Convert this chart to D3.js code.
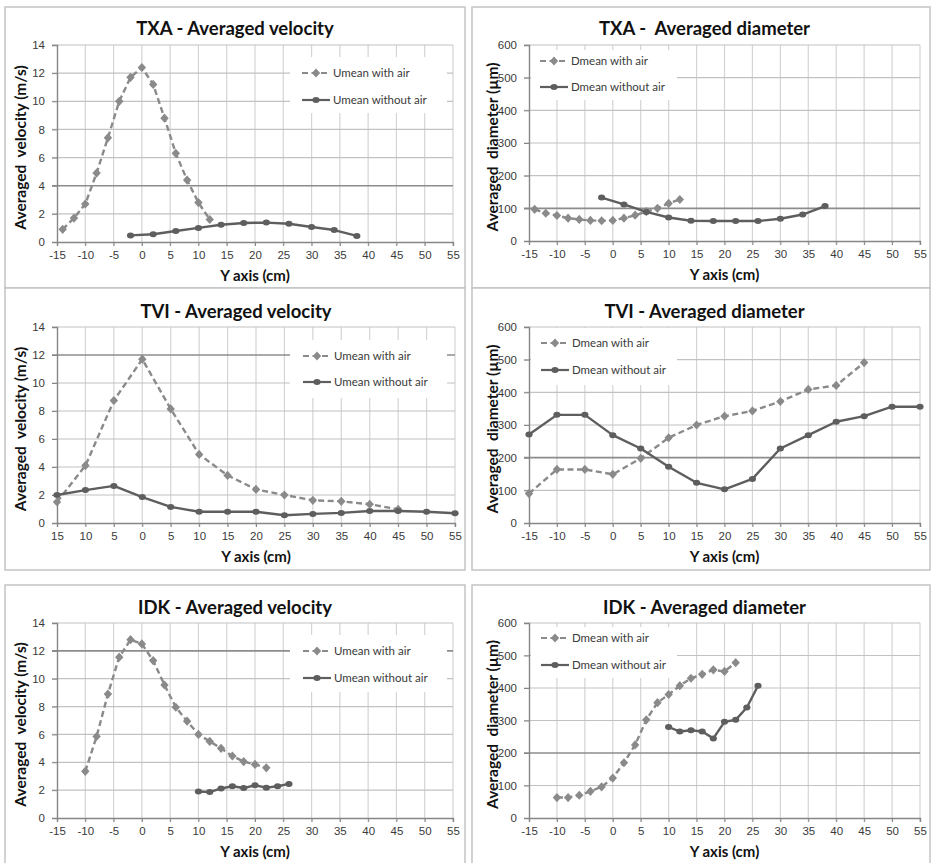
<!DOCTYPE html>
<html>
<head>
<meta charset="utf-8">
<script src="https://cdn.jsdelivr.net/npm/d3@7"></script>
<style>
  body { margin: 0; background: #fff; }
  svg { display: block; font-family: Lato, "Open Sans", sans-serif; }
</style>
</head>
<body>
<svg id="chart" width="931" height="863"></svg>
<script>

// Data /////////////////////////////////////////

// TXA - velocity (m/s)
const txaVelAirX   = [-14, -12, -10, -8, -6, -4, -2, 0, 2, 4, 6, 8, 10, 12];
const txaVelAirY   = [0.9, 1.7, 2.7, 4.9, 7.4, 10.0, 11.7, 12.4, 11.2, 8.8, 6.3, 4.4, 2.8, 1.6];
const txaVelNoAirX = [-2, 2, 6, 10, 14, 18, 22, 26, 30, 34, 38];
const txaVelNoAirY = [0.47, 0.55, 0.78, 1.0, 1.23, 1.35, 1.38, 1.3, 1.07, 0.85, 0.43];

// TXA - diameter (µm)
const txaDiaAirX   = [-14, -12, -10, -8, -6, -4, -2, 0, 2, 4, 6, 8, 10, 12];
const txaDiaAirY   = [97, 85, 78, 70, 66, 63, 62, 63, 70, 79, 90, 100, 115, 127];
const txaDiaNoAirX = [-2, 2, 6, 10, 14, 18, 22, 26, 30, 34, 38];
const txaDiaNoAirY = [133, 112, 89, 72, 62, 61, 61, 61, 68, 81, 107];

// TVI - velocity (m/s)
const tviAirX      = [-15, -10, -5, 0, 5, 10, 15, 20, 25, 30, 35, 40, 45];
const tviNoAirX    = [-15, -10, -5, 0, 5, 10, 15, 20, 25, 30, 35, 40, 45, 50, 55];
const tviVelAirY   = [1.5, 4.1, 8.75, 11.7, 8.15, 4.9, 3.4, 2.4, 2.0, 1.62, 1.55, 1.34, 0.98];
const tviVelNoAirY = [2.0, 2.35, 2.65, 1.85, 1.15, 0.8, 0.8, 0.8, 0.55, 0.65, 0.72, 0.86, 0.86, 0.8, 0.7];

// TVI - diameter (µm)
const tviDiaAirY   = [90, 164, 164, 149, 198, 261, 300, 327, 343, 372, 409, 421, 491];
const tviDiaNoAirY = [271, 331, 331, 269, 228, 172, 123, 103, 135, 228, 269, 310, 327, 356, 356];

// IDK - velocity (m/s)
const idkAirX      = [-10, -8, -6, -4, -2, 0, 2, 4, 6, 8, 10, 12, 14, 16, 18, 20, 22];
const idkNoAirX    = [10, 12, 14, 16, 18, 20, 22, 24, 26];
const idkVelAirY   = [3.35, 5.85, 8.9, 11.55, 12.8, 12.5, 11.3, 9.55, 7.95, 6.95, 6.0, 5.5, 5.0, 4.45, 4.05, 3.85, 3.6];
const idkVelNoAirY = [1.9, 1.86, 2.12, 2.28, 2.15, 2.35, 2.18, 2.28, 2.45];

// IDK - diameter (µm)
const idkDiaAirY   = [63, 63, 70, 82, 96, 123, 170, 225, 302, 355, 380, 407, 430, 442, 456, 451, 478];
const idkDiaNoAirY = [280, 266, 270, 266, 245, 296, 302, 340, 407];

// Axes
const xTicks       = [-15, -10, -5, 0, 5, 10, 15, 20, 25, 30, 35, 40, 45, 50, 55];
const xTickLabels  = ["-15", "-10", "-5", "0", "5", "10", "15", "20", "25", "30", "35", "40", "45", "50", "55"];
const xTickLabelsTvi = ["15", "10", "5", "0", "5", "10", "15", "20", "25", "30", "35", "40", "45", "50", "55"];
const velTicks     = [0, 2, 4, 6, 8, 10, 12, 14];
const diaTicks     = [0, 100, 200, 300, 400, 500, 600];

const velLegend = ["Umean with air", "Umean without air"];
const diaLegend = ["Dmean with air", "Dmean without air"];

const zip = (xs, ys) => xs.map((x, i) => ({ x: x, y: ys[i] }));

// Panels ///////////////////////////////////////

const panels = [
    { title: "TXA - Averaged velocity", ylabel: "Averaged  velocity (m/s)", yMax: 14, yTicks: velTicks,
      xLabels: xTickLabels, legend: velLegend, dark: [4],
      air: zip(txaVelAirX, txaVelAirY), noAir: zip(txaVelNoAirX, txaVelNoAirY),
      frame: [5, 7, 460, 281], plot: [57, 453, 45, 242], titleY: 35,
      leg: { x: 290, y: 57, w: 157, h: 56, rows: [73, 100], sx: 302 } },
    { title: "TXA -  Averaged diameter", ylabel: "Averaged  diameter (µm)", yMax: 600, yTicks: diaTicks,
      xLabels: xTickLabels, legend: diaLegend, dark: [100],
      air: zip(txaDiaAirX, txaDiaAirY), noAir: zip(txaDiaNoAirX, txaDiaNoAirY),
      frame: [472, 7, 458, 281], plot: [529, 920, 45, 241], titleY: 35,
      leg: { x: 531, y: 50, w: 146, h: 50, rows: [61, 87], sx: 540 } },
    { title: "TVI - Averaged velocity", ylabel: "Averaged  velocity (m/s)", yMax: 14, yTicks: velTicks,
      xLabels: xTickLabelsTvi, legend: velLegend, dark: [12],
      air: zip(tviAirX, tviVelAirY), noAir: zip(tviNoAirX, tviVelNoAirY),
      frame: [5, 288, 460, 282], plot: [57, 455, 327, 523], titleY: 318,
      leg: { x: 290, y: 340, w: 157, h: 58, rows: [356, 382], sx: 303 } },
    { title: "TVI - Averaged diameter", ylabel: "Averaged  diameter (µm)", yMax: 600, yTicks: diaTicks,
      xLabels: xTickLabels, legend: diaLegend, dark: [200],
      air: zip(tviAirX, tviDiaAirY), noAir: zip(tviNoAirX, tviDiaNoAirY),
      frame: [472, 288, 458, 282], plot: [529, 920, 327, 523], titleY: 318,
      leg: { x: 531, y: 328, w: 146, h: 57, rows: [343, 370], sx: 541 } },
    { title: "IDK - Averaged velocity", ylabel: "Averaged  velocity (m/s)", yMax: 14, yTicks: velTicks,
      xLabels: xTickLabels, legend: velLegend, dark: [12],
      air: zip(idkAirX, idkVelAirY), noAir: zip(idkNoAirX, idkVelNoAirY),
      frame: [5, 585, 460, 290], plot: [57, 453, 623, 818], titleY: 614,
      leg: { x: 290, y: 635, w: 157, h: 57, rows: [651, 678], sx: 303 } },
    { title: "IDK - Averaged diameter", ylabel: "Averaged  diameter (µm)", yMax: 600, yTicks: diaTicks,
      xLabels: xTickLabels, legend: diaLegend, dark: [200],
      air: zip(idkAirX, idkDiaAirY), noAir: zip(idkNoAirX, idkDiaNoAirY),
      frame: [472, 585, 458, 290], plot: [529, 920, 623, 818], titleY: 614,
      leg: { x: 531, y: 627, w: 146, h: 51, rows: [638, 665], sx: 541 } }
];

const colAir = "#8a8a8a";
const colNoAir = "#5e5e5e";

const svg = d3.select("#chart");

panels.forEach(drawPanel);

function drawPanel(p) {

    const [fx, fy, fw, fh] = p.frame;
    const [l, r, t, b] = p.plot;
    const g = svg.append("g");

    // Frame ////////////////////////////////////

    g.append("rect")
        .attr("x", fx).attr("y", fy)
        .attr("width", fw).attr("height", fh)
        .attr("fill", "#fff")
        .attr("stroke", "#c4c4c4")
        .attr("stroke-width", 1.5);

    const x = d3.scaleLinear().domain([-15, 55]).range([l, r]);
    const y = d3.scaleLinear().domain([0, p.yMax]).range([b, t]);

    // Grid /////////////////////////////////////

    g.append("g")
        .selectAll("line")
        .data(xTicks.slice(1))
        .join("line")
        .attr("x1", d => x(d)).attr("x2", d => x(d))
        .attr("y1", t).attr("y2", b + 4)
        .attr("stroke", "#d4d4d4")
        .attr("stroke-width", 1.2);

    g.append("g")
        .selectAll("line")
        .data(p.yTicks.slice(1))
        .join("line")
        .attr("x1", l - 5).attr("x2", r)
        .attr("y1", d => y(d)).attr("y2", d => y(d))
        .attr("stroke", d => p.dark.includes(d) ? "#8c8c8c" : "#c2c2c2")
        .attr("stroke-width", d => p.dark.includes(d) ? 1.6 : 1.2);

    // Axes /////////////////////////////////////

    const xAxis = d3.axisBottom(x)
        .tickValues(xTicks)
        .tickFormat((d, i) => p.xLabels[i])
        .tickSize(4)
        .tickPadding(5);

    const xg = g.append("g")
        .attr("transform", `translate(0,${b})`)
        .call(xAxis);
    xg.select(".domain").attr("stroke", "#868686").attr("stroke-width", 1.4);
    xg.selectAll(".tick line").attr("stroke", "#868686");
    xg.selectAll(".tick text")
        .attr("fill", "#3a3a3a")
        .style("font-size", "11.5px");

    const yAxis = d3.axisLeft(y)
        .tickValues(p.yTicks)
        .tickSize(5)
        .tickPadding(7);

    const yg = g.append("g")
        .attr("transform", `translate(${l},0)`)
        .call(yAxis);
    yg.select(".domain").attr("stroke", "#868686").attr("stroke-width", 1.4);
    yg.selectAll(".tick line").attr("stroke", "#868686");
    yg.selectAll(".tick text")
        .attr("fill", "#3a3a3a")
        .style("font-size", "11.5px");

    // Titles ///////////////////////////////////

    g.append("text")
        .attr("x", (l + r) / 2 - 20)
        .attr("y", p.titleY)
        .attr("text-anchor", "middle")
        .style("font-size", "18.5px")
        .style("font-weight", "bold")
        .style("white-space", "pre")
        .attr("fill", "#111")
        .text(p.title);

    g.append("text")
        .attr("x", (l + r) / 2)
        .attr("y", b + 39)
        .attr("text-anchor", "middle")
        .style("font-size", "15px")
        .style("font-weight", "bold")
        .attr("fill", "#111")
        .text("Y axis (cm)");

    g.append("text")
        .attr("transform", `translate(${l - 31},${(t + b) / 2 + 4}) rotate(-90)`)
        .attr("text-anchor", "middle")
        .style("font-size", "15.5px")
        .style("font-weight", "bold")
        .style("white-space", "pre")
        .attr("fill", "#111")
        .text(p.ylabel);

    // Legend ///////////////////////////////////

    const lg = g.append("g");
    lg.append("rect")
        .attr("x", p.leg.x).attr("y", p.leg.y)
        .attr("width", p.leg.w).attr("height", p.leg.h)
        .attr("fill", "#fff");

    const styles = [
        { col: colAir, dash: "6,3.5", marker: "diamond" },
        { col: colNoAir, dash: null, marker: "circle" }
    ];

    styles.forEach((s, i) => {
        const ly = p.leg.rows[i];
        lg.append("line")
            .attr("x1", p.leg.sx).attr("x2", p.leg.sx + 28)
            .attr("y1", ly).attr("y2", ly)
            .attr("stroke", s.col)
            .attr("stroke-width", 2.2)
            .attr("stroke-dasharray", s.dash);
        addMarker(lg, s, p.leg.sx + 14, ly);
        lg.append("text")
            .attr("x", p.leg.sx + 31)
            .attr("y", ly + 4)
            .style("font-size", "11.5px")
            .attr("fill", "#3a3a3a")
            .text(p.legend[i]);
    });

    // Series ///////////////////////////////////

    const line = d3.line().x(d => x(d.x)).y(d => y(d.y));

    [[p.air, styles[0]], [p.noAir, styles[1]]].forEach(([data, s]) => {
        g.append("path")
            .datum(data)
            .attr("d", line)
            .attr("fill", "none")
            .attr("stroke", s.col)
            .attr("stroke-width", 2.4)
            .attr("stroke-dasharray", s.dash)
            .attr("stroke-linejoin", "round");
        data.forEach(d => addMarker(g, s, x(d.x), y(d.y)));
    });
}

function addMarker(sel, s, cx, cy) {
    if (s.marker === "diamond") {
        sel.append("path")
            .attr("d", "M0,-4.6L4.2,0L0,4.6L-4.2,0Z")
            .attr("transform", `translate(${cx},${cy})`)
            .attr("fill", s.col);
    } else {
        sel.append("ellipse")
            .attr("cx", cx).attr("cy", cy)
            .attr("rx", 3.6).attr("ry", 3)
            .attr("fill", s.col);
    }
}

</script>
</body>
</html>
